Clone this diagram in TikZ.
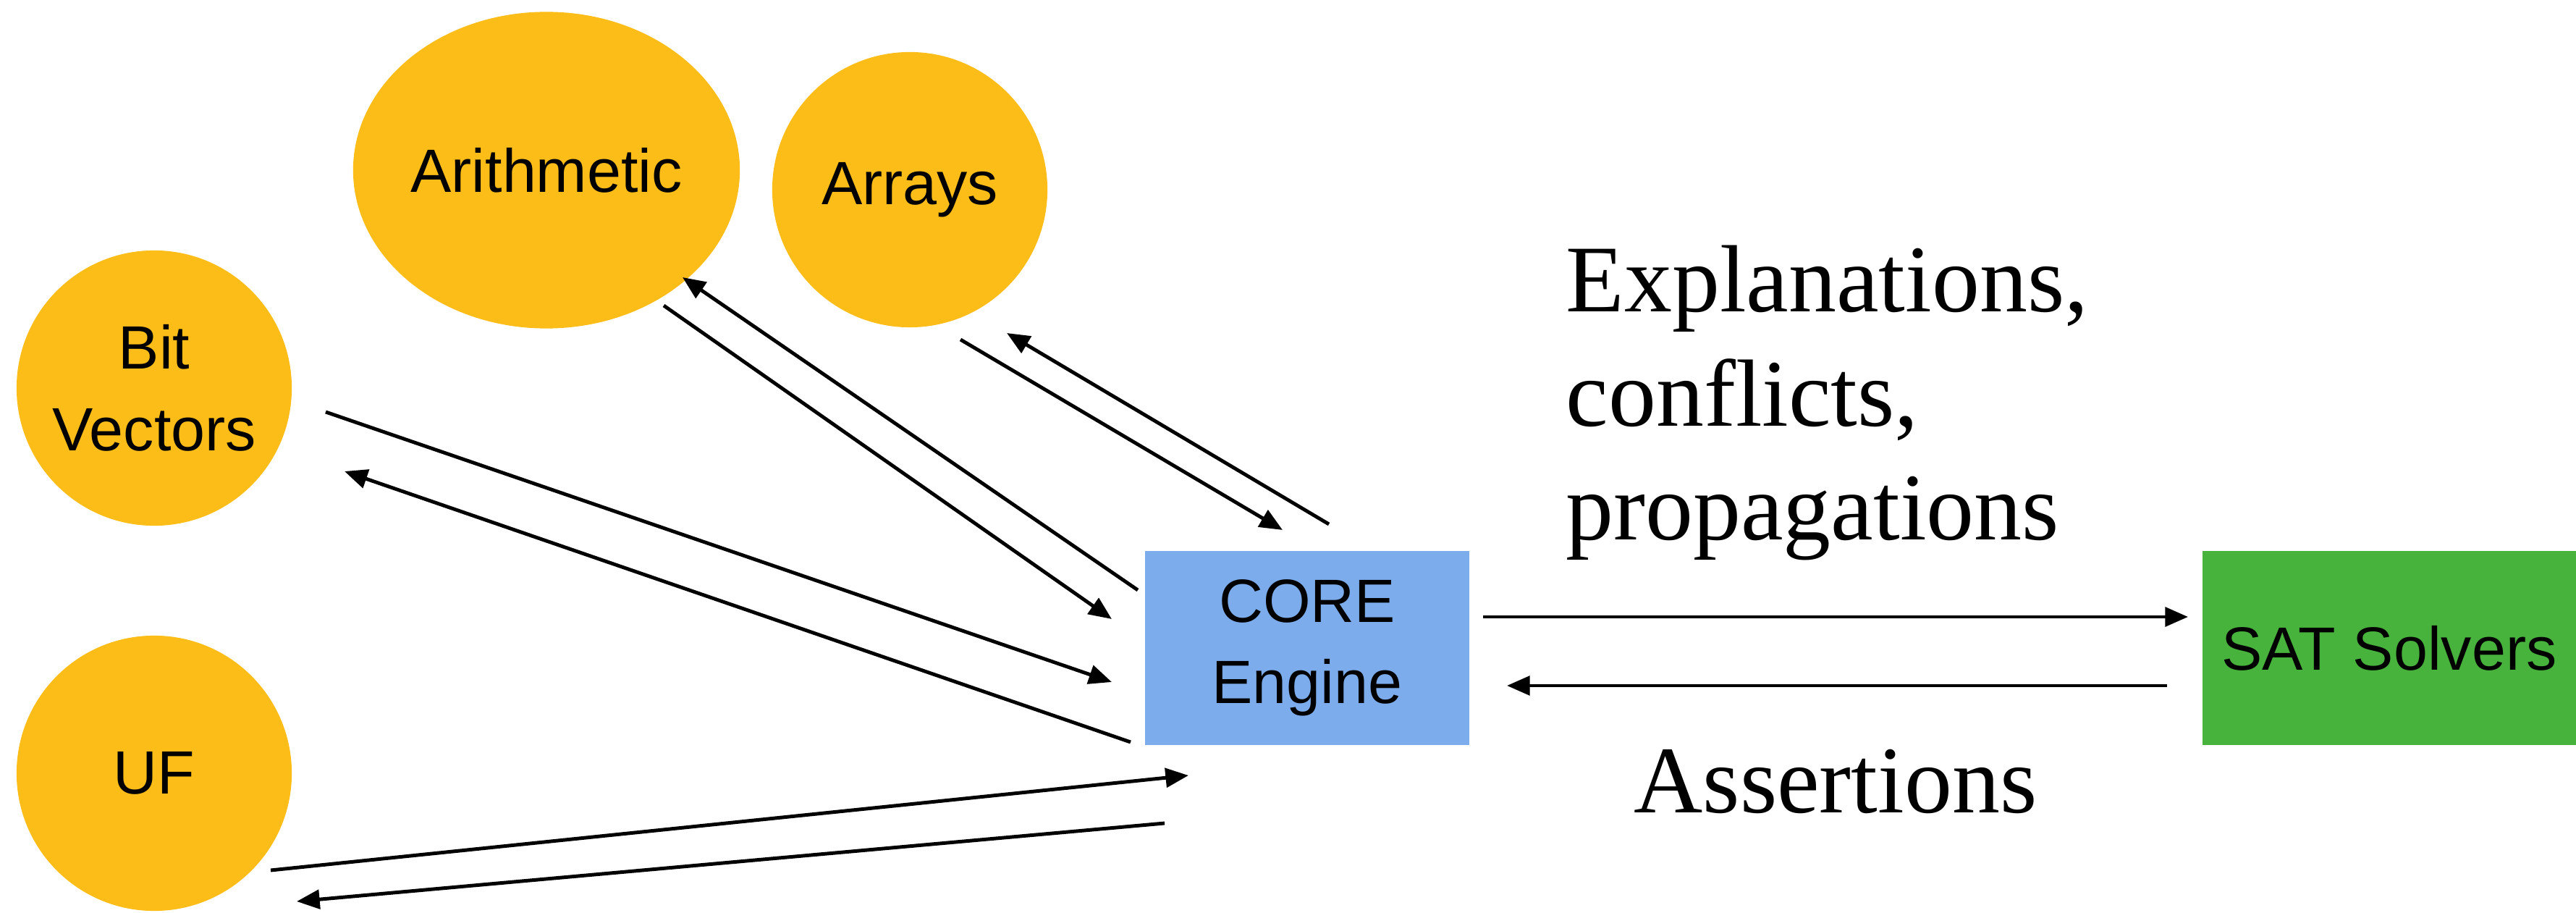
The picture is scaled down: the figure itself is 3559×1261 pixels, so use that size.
\documentclass[tikz,border=0pt]{standalone}
\usepackage{fontspec}
\setmainfont{Liberation Serif}
\setsansfont{Liberation Sans}
\usetikzlibrary{arrows.meta,shapes.geometric}
\definecolor{theoryyellow}{RGB}{253,189,25}
\definecolor{coreblue}{RGB}{124,172,236}
\definecolor{satgreen}{RGB}{71,179,60}
\tikzset{
  theory/.style={circle,fill=theoryyellow,inner sep=0pt,minimum size=3.8cm,
    font=\sffamily\fontsize{24}{32}\selectfont,align=center,text=black},
  box/.style={rectangle,inner sep=0pt,font=\sffamily\fontsize{24}{32}\selectfont,align=center,text=black},
  conn/.style={line width=1.4pt,-{Triangle[length=9pt,width=7.5pt]}},
  lbl/.style={font=\rmfamily\fontsize{37.5}{44.7}\selectfont,inner sep=0pt}
}
\begin{document}
\begin{tikzpicture}[x=0.01cm,y=-0.01cm]
\useasboundingbox (0,0) rectangle (3559,1261);
% nodes
\node[ellipse,fill=theoryyellow,inner sep=0pt,minimum width=5.34cm,minimum height=4.37cm,
  font=\sffamily\fontsize{24}{32}\selectfont] (arith) at (755,235) {Arithmetic};
\node[theory] (arrays) at (1257,262) {Arrays};
\node[theory] (bv) at (213,536) {Bit\\Vectors};
\node[theory] (uf) at (213,1068) {UF};
\node[box,fill=coreblue,minimum width=4.47cm,minimum height=2.67cm] (core) at (1806,895) {CORE\\Engine};
\node[box,fill=satgreen,minimum width=5.16cm,minimum height=2.67cm] (sat) at (3301,895) {SAT Solvers};
% labels
\node[lbl,anchor=base west] (expl1) at (2163,431) {Explanations,};
\node[lbl,anchor=base west] (expl2) at (2163,589) {conflicts,};
\node[lbl,anchor=base west] (expl3) at (2163,745) {propagations};
\node[lbl,anchor=base] (assert) at (2536,1122) {Assertions};
% connector end points
\coordinate (arithOut) at (917,422);
\coordinate (coreInA) at (1536,855);
\coordinate (coreOutA) at (1572,815);
\coordinate (arithIn) at (943,383);
\coordinate (arraysOut) at (1327,469);
\coordinate (coreInR) at (1772,732);
\coordinate (coreOutR) at (1836,724);
\coordinate (arraysIn) at (1391,460);
\coordinate (bvOut) at (450,569);
\coordinate (coreInB) at (1536,942);
\coordinate (coreOutB) at (1562,1025);
\coordinate (bvIn) at (476,651);
\coordinate (ufOut) at (374,1202);
\coordinate (coreInU) at (1642,1071);
\coordinate (coreOutU) at (1609,1137);
\coordinate (ufIn) at (410,1245);
\coordinate (coreOutS) at (2049,852);
\coordinate (satIn) at (3023,852);
\coordinate (satOut) at (2994,947);
\coordinate (coreInS) at (2082,947);
% connectors
\draw[conn] (arithOut) -- (coreInA);
\draw[conn] (coreOutA) -- (arithIn);
\draw[conn] (arraysOut) -- (coreInR);
\draw[conn] (coreOutR) -- (arraysIn);
\draw[conn] (bvOut) -- (coreInB);
\draw[conn] (coreOutB) -- (bvIn);
\draw[conn] (ufOut) -- (coreInU);
\draw[conn] (coreOutU) -- (ufIn);
\draw[conn] (coreOutS) -- (satIn);
\draw[conn] (satOut) -- (coreInS);
\end{tikzpicture}
\end{document}
